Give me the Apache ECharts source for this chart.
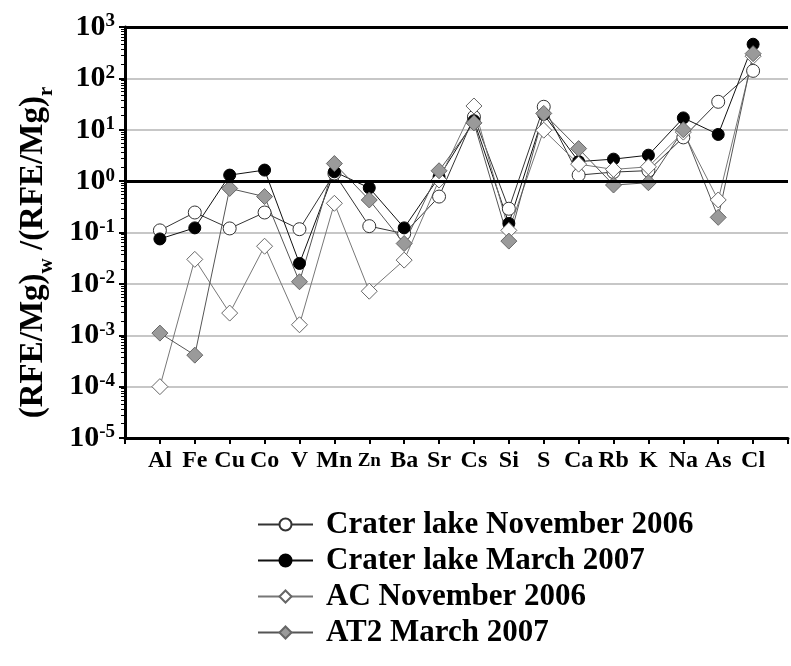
<!DOCTYPE html>
<html>
<head>
<meta charset="utf-8">
<script src="https://cdn.jsdelivr.net/npm/echarts@6/dist/echarts.min.js"></script>
<style>
  html, body { margin: 0; padding: 0; background: #fff; }
  #chart { width: 791px; height: 666px; }
</style>
</head>
<body>
<div id="chart"></div>
<script>
// elements on the x axis
const elements = ['Al', 'Fe', 'Cu', 'Co', 'V', 'Mn', 'Zn', 'Ba', 'Sr', 'Cs', 'Si', 'S', 'Ca', 'Rb', 'K', 'Na', 'As', 'Cl']

// (RFE/Mg)w / (RFE/Mg)r
const craterNov2006 = [0.11, 0.245, 0.12, 0.245, 0.116, 1.41, 0.133, 0.095, 0.50, 17.8, 0.29, 28, 1.31, 1.5, 1.6, 7.1, 35, 140]
const craterMar2007 = [0.075, 0.123, 1.31, 1.64, 0.025, 1.52, 0.74, 0.123, 1.2, 15, 0.15, 20, 2.4, 2.68, 3.2, 17, 8.1, 462]
const acNov2006 = [0.0001, 0.030, 0.0027, 0.054, 0.0016, 0.37, 0.0072, 0.029, 1.05, 29, 0.11, 9.8, 2.14, 1.69, 1.9, 9, 0.43, 270]
const at2Mar2007 = [0.0011, 0.00041, 0.72, 0.50, 0.011, 2.2, 0.43, 0.061, 1.59, 13.6, 0.068, 20.8, 4.3, 0.84, 0.93, 10, 0.197, 303]

const seriesNames = ['Crater lake November 2006', 'Crater lake March 2007', 'AC November 2006', 'AT2 March 2007']

// y axis decades
const yMin = 1e-5
const yMax = 1e3

const font = "'Liberation Serif', 'Times New Roman', serif"

// blank slot before Al and after Cl so the axis starts one step left
const xCats = [''].concat(elements, [''])
const pad = (arr) => [null].concat(arr, [null])

const chart = echarts.init(document.getElementById('chart'))

const makeSeries = (name, data, symbol, size, fill, border, lineColor) => {
  return {
    name: name,
    type: 'line',
    data: pad(data),
    symbol: symbol,
    symbolSize: size,
    showAllSymbol: true,
    connectNulls: false,
    lineStyle: { color: lineColor, width: 1 },
    itemStyle: { color: fill, borderColor: border, borderWidth: 1 },
    emphasis: { disabled: true },
    animation: false
  }
}

const series = [
  makeSeries(seriesNames[0], craterNov2006, 'circle', 13, '#fff', '#333', '#333'),
  makeSeries(seriesNames[1], craterMar2007, 'circle', 12, '#000', '#000', '#111'),
  makeSeries(seriesNames[2], acNov2006, 'diamond', 16, '#fff', '#666', '#777'),
  makeSeries(seriesNames[3], at2Mar2007, 'diamond', 16, '#9a9a9a', '#666', '#555')
]

// heavy reference lines at 10^0 and at the top of the frame
series[0].markLine = {
  silent: true,
  symbol: 'none',
  label: { show: false },
  lineStyle: { color: '#000', width: 3, type: 'solid' },
  data: [{ yAxis: 1 }, { yAxis: yMax }]
}

chart.setOption({
  animation: false,
  textStyle: { fontFamily: font },
  grid: { left: 125, top: 27, right: -7, bottom: 228 },
  legend: {
    orient: 'vertical',
    left: 252,
    top: 504,
    itemWidth: 55,
    itemHeight: 15,
    itemGap: 5,
    data: seriesNames,
    textStyle: { fontFamily: font, fontWeight: 'bold', fontSize: 31, lineHeight: 31, color: '#000', padding: [0, 0, 0, 8] }
  },
  xAxis: {
    type: 'category',
    data: xCats,
    boundaryGap: false,
    axisLine: { lineStyle: { color: '#000', width: 3 } },
    axisTick: { show: true, length: 6, lineStyle: { color: '#000', width: 2 } },
    axisLabel: {
      interval: 0,
      margin: 11,
      formatter: (v) => v === 'Zn' ? '{z|Zn}' : '{n|' + v + '}',
      rich: {
        n: { fontFamily: font, fontWeight: 'bold', fontSize: 24, lineHeight: 24, color: '#000' },
        z: { fontFamily: font, fontWeight: 'bold', fontSize: 19, lineHeight: 20, padding: [4, 0, 0, 0], color: '#000' }
      }
    },
    splitLine: { show: false }
  },
  yAxis: {
    type: 'log',
    logBase: 10,
    min: yMin,
    max: yMax,
    name: '{a|(RFE/Mg)}{s|w}{a| /(RFE/Mg)}{s|r}',
    nameLocation: 'middle',
    nameRotate: 90,
    nameGap: 68,
    nameTextStyle: {
      padding: [0, 40, 0, 0],
      rich: {
        a: { fontFamily: font, fontWeight: 'bold', fontSize: 33, lineHeight: 40, verticalAlign: 'top', color: '#000' },
        s: { fontFamily: font, fontWeight: 'bold', fontSize: 21, lineHeight: 21, verticalAlign: 'bottom', color: '#000' }
      }
    },
    axisLine: { show: true, lineStyle: { color: '#000', width: 3 } },
    axisTick: { show: true, length: 6, lineStyle: { color: '#000', width: 2 } },
    minorTick: { show: true, splitNumber: 10, length: 4, lineStyle: { color: '#000', width: 1 } },
    axisLabel: {
      margin: 10,
      formatter: (v) => '{b|10}{s|' + Math.round(Math.log10(v)) + '}',
      rich: {
        b: { fontFamily: font, fontWeight: 'bold', fontSize: 30, lineHeight: 30, color: '#000' },
        s: { fontFamily: font, fontWeight: 'bold', fontSize: 19, lineHeight: 19, verticalAlign: 'top', color: '#000' }
      }
    },
    splitLine: { show: true, lineStyle: { color: '#b4b4b4', width: 1.5 } }
  },
  series: series
})

window.addEventListener('resize', () => {
  chart.resize()
})
</script>
</body>
</html>
